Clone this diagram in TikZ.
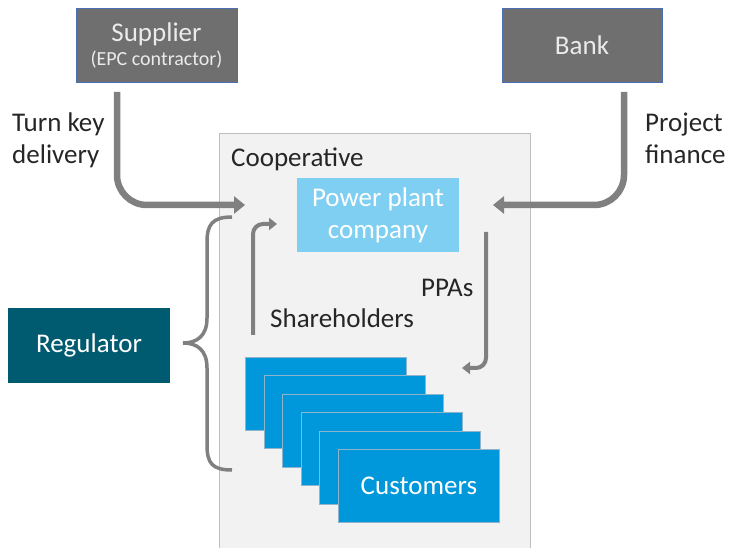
\documentclass[tikz,border=0pt]{standalone}
\usepackage{fontspec}
\setmainfont{Carlito}
\usetikzlibrary{arrows.meta}
\definecolor{boxgray}{HTML}{6F6F6F}
\definecolor{boxedge}{HTML}{4A6FB5}
\definecolor{arrowgray}{HTML}{808080}
\definecolor{coopfill}{HTML}{F2F2F2}
\definecolor{coopedge}{HTML}{BFBFBF}
\definecolor{plantblue}{HTML}{7FCFF2}
\definecolor{custblue}{HTML}{0098DA}
\definecolor{custedge}{HTML}{8FB4CC}
\definecolor{regteal}{HTML}{005A70}
\definecolor{txtgray}{HTML}{262626}
\tikzset{
  graybox/.style={fill=boxgray, draw=boxedge, line width=0.8pt, minimum width=161pt, minimum height=74pt, text=white!92!black, align=center, inner sep=0pt},
  flow/.style={draw=arrowgray, line width=6.5pt, rounded corners=30pt, -{Triangle[width=17pt,length=11pt]}},
  thinflow/.style={draw=arrowgray, line width=4pt, rounded corners=10pt, -{Triangle[width=12pt,length=8pt]}},
  custbox/.style={fill=custblue, draw=custedge, line width=0.8pt, minimum width=161pt, minimum height=73pt, anchor=north west, inner sep=0pt, text=white},
  lbl/.style={text=txtgray, font=\fontsize{27}{32}\selectfont, inner sep=0pt}
}
\begin{document}
\begin{tikzpicture}[x=1pt,y=-1pt]
\useasboundingbox (0,0) rectangle (729,548);
\begin{scope}
\clip (0,0) rectangle (729,548);
\node[fill=coopfill, draw=coopedge, line width=1pt, minimum width=311pt, minimum height=430pt, anchor=north west, inner sep=0pt] (coop) at (219,133) {};
\end{scope}
\node[lbl, anchor=base west] (cooplbl) at (231,167) {Cooperative};
\node[graybox] (sup) at (156.5,45) {};
\node[text=white!92!black, font=\fontsize{27}{30}\selectfont, anchor=base, inner sep=0pt] (suplbl) at (156.5,42) {Supplier};
\node[text=white!92!black, font=\fontsize{20}{24}\selectfont, anchor=base, inner sep=0pt] (epclbl) at (156.5,66) {(EPC contractor)};
\node[graybox, minimum width=160pt] (bank) at (582,45) {\fontsize{27}{30}\selectfont Bank};
\node[fill=plantblue, minimum width=162pt, minimum height=74pt, inner sep=0pt, align=center, text=white, font=\fontsize{27}{32}\selectfont] (plant) at (378,215) {Power plant\\company};
\foreach \i in {0,...,5}{
  \node[custbox] (c\i) at ({245+18.6*\i},{357+18.4*\i}) {};
}
\node[text=white, font=\fontsize{27}{30}\selectfont] (custlbl) at (c5.center) {Customers};
\node[fill=regteal, minimum width=162pt, minimum height=75pt, inner sep=0pt, text=white, font=\fontsize{27}{30}\selectfont] (reg) at (89,345.5) {Regulator};
% labels
\node[lbl, anchor=base west] (tk1) at (12,132) {Turn key};
\node[lbl, anchor=base west] (tk2) at (12,164) {delivery};
\node[lbl, anchor=base west] (pf1) at (645,132) {Project};
\node[lbl, anchor=base west] (pf2) at (645,164) {finance};
\node[lbl, anchor=base west] (sh) at (270,328) {Shareholders};
\node[lbl, anchor=base west] (ppa) at (421,297) {PPAs};
% connectors
\coordinate (s0) at (117,92);
\coordinate (s1) at (245,205);
\draw[flow] (s0) |- (s1);
\coordinate (b0) at (624,92);
\coordinate (b1) at (493,205);
\draw[flow] (b0) |- (b1);
\coordinate (h0) at (253,335);
\coordinate (h1) at (277,224);
\draw[thinflow] (h0) |- (h1);
\coordinate (p0) at (486,232);
\coordinate (p1) at (462,368);
\draw[thinflow] (p0) |- (p1);
% brace
\coordinate (brtop) at (232,217);
\coordinate (brtip) at (183,343);
\coordinate (brbot) at (232,470);
\draw[arrowgray, line width=3.5pt] (brtop) .. controls (212,217) and (207,225) .. (207,242) -- (207,318) .. controls (207,336) and (197,343) .. (brtip) .. controls (197,343) and (207,350) .. (207,368) -- (207,445) .. controls (207,463) and (212,470) .. (brbot);
\end{tikzpicture}
\end{document}
